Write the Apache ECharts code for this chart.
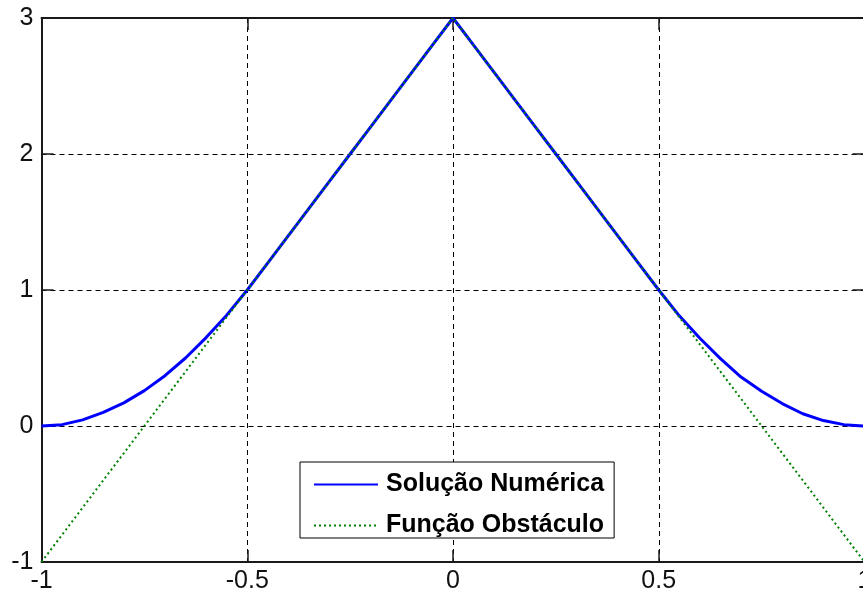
<!DOCTYPE html>
<html>
<head>
<meta charset="utf-8">
<script src="https://cdn.jsdelivr.net/npm/echarts@6/dist/echarts.min.js"></script>
<style>
html,body{margin:0;padding:0;background:#fff;}
#chart{width:863px;height:594px;}
</style>
</head>
<body>
<div id="chart"></div>
<script>
// x grid of the numerical solution
const solX = [-1, -0.95, -0.9, -0.85, -0.8, -0.75, -0.7, -0.65, -0.6, -0.55, -0.5,
  -0.45, -0.4, -0.35, -0.3, -0.25, -0.2, -0.15, -0.1, -0.05, 0,
  0.05, 0.1, 0.15, 0.2, 0.25, 0.3, 0.35, 0.4, 0.45, 0.5,
  0.55, 0.6, 0.65, 0.7, 0.75, 0.8, 0.85, 0.9, 0.95, 1];
// values
const solY = [0, 0.01, 0.045, 0.1, 0.17, 0.26, 0.37, 0.5, 0.65, 0.815, 1,
  1.2, 1.4, 1.6, 1.8, 2.0, 2.2, 2.4, 2.6, 2.8, 3,
  2.8, 2.6, 2.4, 2.2, 2.0, 1.8, 1.6, 1.4, 1.2, 1,
  0.81, 0.645, 0.495, 0.36, 0.255, 0.165, 0.09, 0.04, 0.01, 0];
const obsX = [-1, -0.5, 0, 0.5, 1];
const obsY = [-1, 1, 3, 1, -1];
const seriesNames = ['Solução Numérica', 'Função Obstáculo'];

const chart = echarts.init(document.getElementById('chart'), null, {renderer: 'canvas'});
const font = 'Liberation Sans, Arial, sans-serif';
const axisLine = {show: true, onZero: false, lineStyle: {color: '#1a1a1a', width: 2}};
const tick = {show: true, inside: true, length: 12, lineStyle: {color: '#1a1a1a', width: 1.5}};
const split = {show: true, lineStyle: {color: '#000', width: 1, type: [5, 4]}};

chart.setOption({
  animation: false,
  backgroundColor: '#fff',
  grid: {left: 41.5, top: 18, width: 823, height: 544, containLabel: false, outerBoundsMode: 'none'},
  xAxis: [{
    type: 'value', min: -1, max: 1, interval: 0.5, position: 'bottom',
    axisLine: axisLine, axisTick: tick, splitLine: split,
    axisLabel: {fontFamily: font, fontSize: 25, color: '#111', margin: 7}
  }, {
    type: 'value', min: -1, max: 1, interval: 0.5, position: 'top',
    axisLine: axisLine, axisTick: tick, splitLine: {show: false}, axisLabel: {show: false}
  }],
  yAxis: [{
    type: 'value', min: -1, max: 3, interval: 1, position: 'left',
    axisLine: axisLine, axisTick: tick, splitLine: split,
    axisLabel: {fontFamily: font, fontSize: 25, color: '#111', margin: 8}
  }, {
    type: 'value', min: -1, max: 3, interval: 1, position: 'right',
    axisLine: axisLine, axisTick: tick, splitLine: {show: false}, axisLabel: {show: false}
  }],
  legend: {
    left: 300, top: 462, orient: 'vertical',
    itemWidth: 64, itemHeight: 22, itemGap: 16,
    padding: [10, 10, 0, 13],
    borderColor: '#000', borderWidth: 1, backgroundColor: '#fff',
    itemStyle: {opacity: 0},
    textStyle: {fontFamily: font, fontSize: 25, fontWeight: 'bold', color: '#000', lineHeight: 22, padding: [0, 0, 0, 3]},
    data: seriesNames
  },
  series: [{
    name: seriesNames[0], type: 'line', symbol: 'none',
    data: solX.map((x, i) => [x, solY[i]]),
    lineStyle: {color: '#0000ff', width: 3},
    itemStyle: {color: '#0000ff'}
  }, {
    name: seriesNames[1], type: 'line', symbol: 'none',
    data: obsX.map((x, i) => [x, obsY[i]]),
    lineStyle: {color: '#008000', width: 2, type: [2, 3]},
    itemStyle: {color: '#008000'}
  }]
});
</script>
</body>
</html>
